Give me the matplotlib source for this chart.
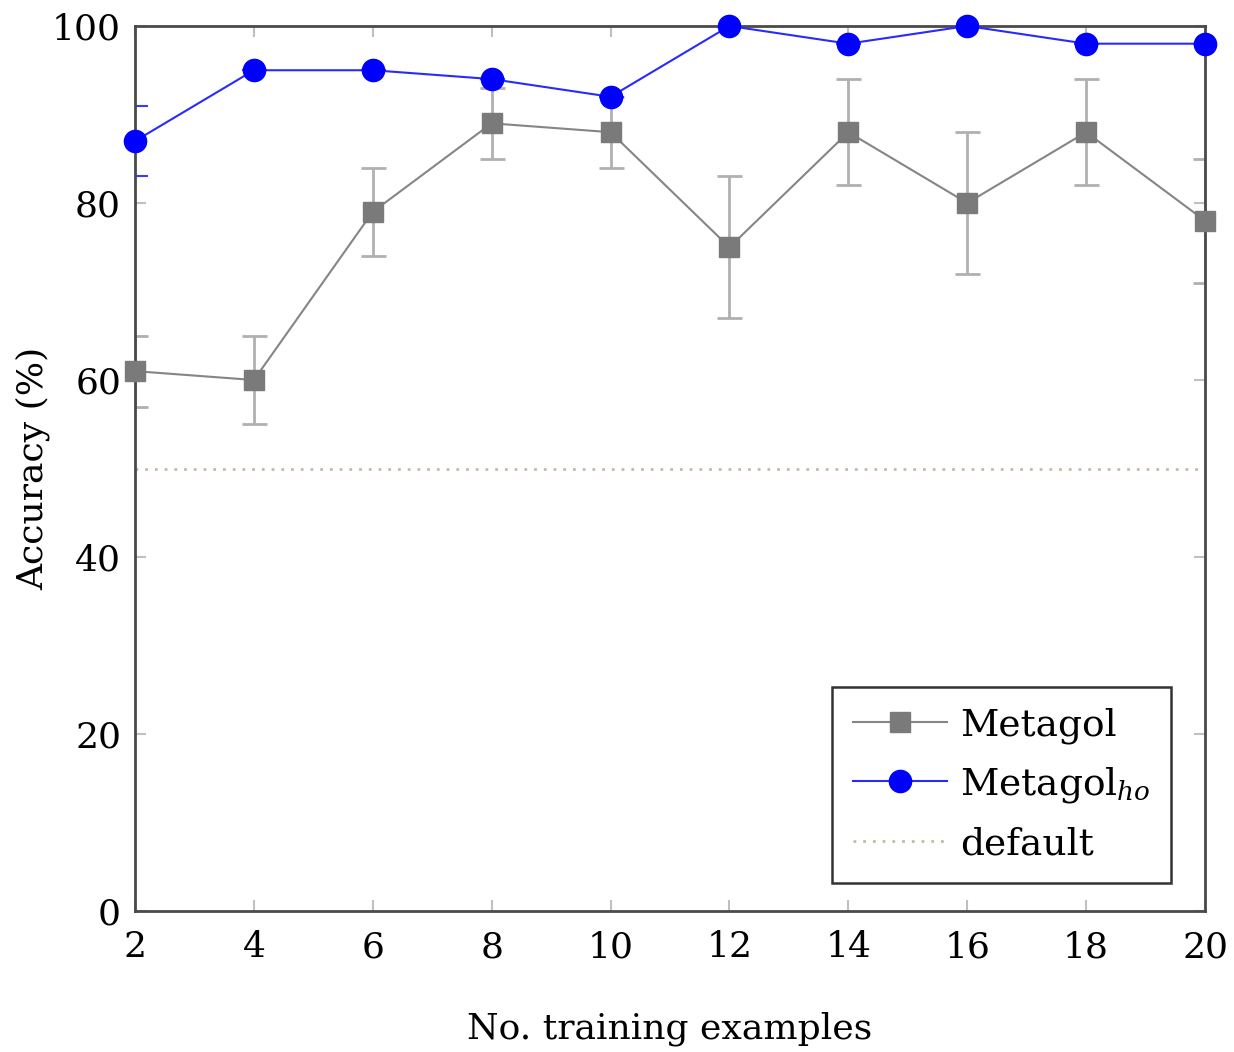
import matplotlib
matplotlib.use("Agg")
import matplotlib.pyplot as plt

x = [2, 4, 6, 8, 10, 12, 14, 16, 18, 20]
metagol = [61, 60, 79, 89, 88, 75, 88, 80, 88, 78]
metagol_err = [4, 5, 5, 4, 4, 8, 6, 8, 6, 7]
metagol_ho = [87, 95, 95, 94, 92, 100, 98, 100, 98, 98]
metagol_ho_err = [4, 0, 0, 0, 0, 0, 0, 0, 0, 0]
default_acc = 50

xticks = [2, 4, 6, 8, 10, 12, 14, 16, 18, 20]
yticks = [0, 20, 40, 60, 80, 100]

plt.rcParams['font.family'] = ['DejaVu Serif']
plt.rcParams['mathtext.fontset'] = 'dejavuserif'

fig = plt.figure(figsize=(12.34, 10.52), dpi=100)
ax = fig.add_axes([0.1094, 0.134, 0.8671, 0.8413])

ax.axhline(default_acc, color='#c9b9a3', linestyle=(0, (1, 2.5)), linewidth=2, label='default', zorder=1)

# error bars (clipped at the axes)
ax.errorbar(x, metagol, yerr=metagol_err, fmt='none',
            ecolor='#b0b0b0', elinewidth=2, capsize=9, capthick=2, zorder=2)
ax.errorbar(x, metagol_ho, yerr=metagol_ho_err, fmt='none',
            ecolor='#3a3aff', elinewidth=1.5, capsize=9, capthick=1.5, zorder=2)

# lines + markers (not clipped)
ax.plot(x, metagol, color='#858585', linewidth=1.5,
        marker='s', markersize=15, markerfacecolor='#7a7a7a', markeredgecolor='#7a7a7a',
        label='Metagol', zorder=3, clip_on=False)
ax.plot(x, metagol_ho, color='#2a2aff', linewidth=1.5,
        marker='o', markersize=16, markerfacecolor='#0000ff', markeredgecolor='#0000ff',
        label='Metagol$_{ho}$', zorder=4, clip_on=False)

ax.set_xlim(2, 20)
ax.set_ylim(0, 100)
ax.set_xticks(xticks)
ax.set_yticks(yticks)
ax.tick_params(axis='both', which='both', direction='in', top=True, right=True,
               length=8, width=1.5, color='#c0c0c0', labelsize=26, pad=10)
ax.tick_params(axis='x', pad=14)
for s in ax.spines.values():
    s.set_color('#4a4a4a')
    s.set_linewidth(2)
    s.set_zorder(2.5)

ax.set_xlabel('No. training examples', fontsize=26, labelpad=34)
ax.set_ylabel('Accuracy (%)', fontsize=26)
ax.yaxis.set_label_coords(-0.079, 0.5)

handles, labels = ax.get_legend_handles_labels()
order = [1, 2, 0]
leg = ax.legend([handles[i] for i in order], [labels[i] for i in order],
                loc='lower right', bbox_to_anchor=(0.968, 0.032), borderaxespad=0,
                fontsize=27, fancybox=False, framealpha=1, edgecolor='#333333',
                handlelength=2.5, handletextpad=0.35, borderpad=0.55, labelspacing=0.56)
leg.get_frame().set_linewidth(1.8)
leg.set_zorder(10)

fig.savefig('out.png', dpi=100)
